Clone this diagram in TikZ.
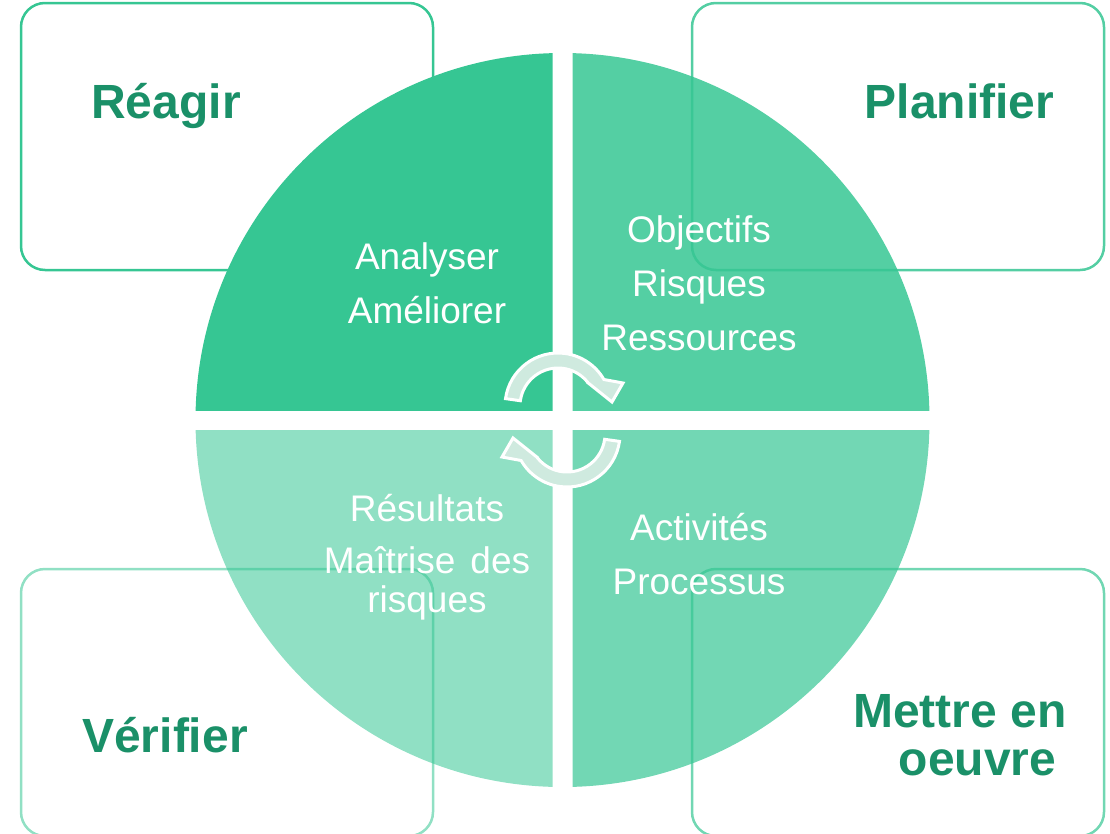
\documentclass[tikz,border=0pt]{standalone}
\usepackage{fontspec}
\setmainfont{Liberation Sans}
\definecolor{accent}{HTML}{36C693}
\definecolor{titlegreen}{HTML}{1A9068}
\definecolor{arrowfill}{HTML}{CFEADF}
\tikzset{
  box/.style={draw=accent, line width=2.5pt, rounded corners=24pt},
  title/.style={text=titlegreen, font=\bfseries\fontsize{48}{48}\selectfont, inner sep=0pt, anchor=base},
  body/.style={text=white, font=\fontsize{37}{37}\selectfont, inner sep=0pt, anchor=base},
  cyclearrow/.style={fill=arrowfill, draw=white, line width=3pt, line join=miter},
}
\begin{document}
\begin{tikzpicture}[x=1pt,y=-1pt]
\useasboundingbox (0,0) rectangle (1110,833);
\coordinate (c) at (562.5,420);
% quadrants
\begin{scope}
  \clip (0,0) rectangle (552.5,410);
  \fill[accent] (c) circle[radius=367];
\end{scope}
\begin{scope}
  \clip (572.5,0) rectangle (1110,410);
  \fill[accent!85] (c) circle[radius=367];
\end{scope}
\begin{scope}
  \clip (0,430) rectangle (552.5,833);
  \fill[accent!55] (c) circle[radius=367];
\end{scope}
\begin{scope}
  \clip (572.5,430) rectangle (1110,833);
  \fill[accent!70] (c) circle[radius=367];
\end{scope}
% boxes
\draw[box, draw opacity=1] (21,3) rectangle (433,270);
\draw[box, draw opacity=0.85] (692,3) rectangle (1104,270);
\draw[box, draw opacity=0.55] (21,569) rectangle (433,836);
\draw[box, draw opacity=0.7] (692,569) rectangle (1104,836);
% titles
\node[title] (reagir) at (166,118) {Réagir};
\node[title] (planifier) at (959.5,118) {Planifier};
\node[title] (verifier) at (165,752) {Vérifier};
\node[title] (mettre1) at (960,727) {Mettre en};
\node[title] (mettre2) at (977.5,775) {oeuvre};
% quadrant texts
\node[body] (analyser) at (427,269) {Analyser};
\node[body] (ameliorer) at (427,323) {Améliorer};
\node[body] (objectifs) at (699,242) {Objectifs};
\node[body] (risques1) at (699,296) {Risques};
\node[body] (ressources) at (699,350) {Ressources};
\node[body] (resultats) at (427,521) {Résultats};
\node[body] (maitrise) at (427,573) {Maîtrise\hspace{15pt}des};
\node[body] (risques2) at (427,612) {risques};
\node[body] (activites) at (699,540) {Activités};
\node[body] (processus) at (699,594) {Processus};
% circular arrows
\begin{scope}[shift={(558,406)}]
  \draw[cyclearrow] (188:53) arc[start angle=188, end angle=330, radius=53]
    -- (65,-23) -- (54,-4) -- (29,-24) -- (322:38)
    arc[start angle=322, end angle=188, radius=38] -- cycle;
\end{scope}
\begin{scope}[shift={(567,434)}, rotate=180]
  \draw[cyclearrow] (188:53) arc[start angle=188, end angle=330, radius=53]
    -- (65,-23) -- (54,-4) -- (29,-24) -- (322:38)
    arc[start angle=322, end angle=188, radius=38] -- cycle;
\end{scope}
\end{tikzpicture}
\end{document}
